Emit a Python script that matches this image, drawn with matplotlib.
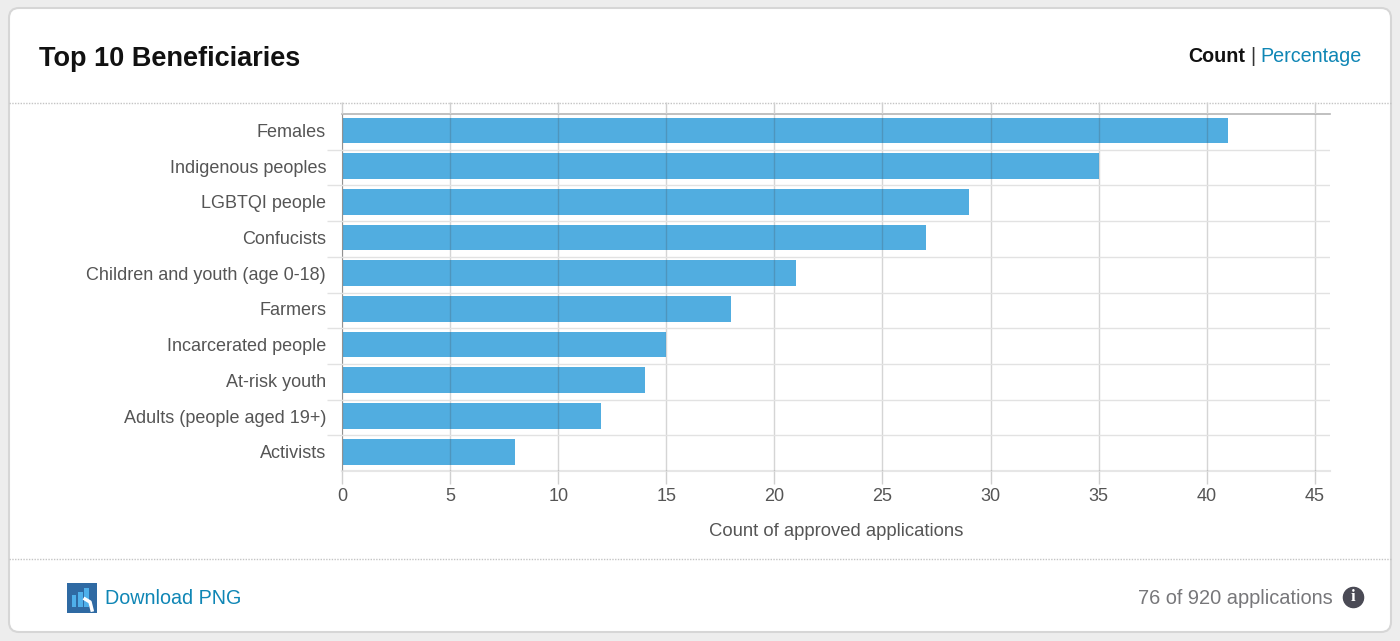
import matplotlib.pyplot as plt
import numpy as np
from matplotlib.patches import FancyBboxPatch, Rectangle

categories = ["Females", "Indigenous peoples", "LGBTQI people", "Confucists",
              "Children and youth (age 0-18)", "Farmers", "Incarcerated people",
              "At-risk youth", "Adults (people aged 19+)", "Activists"]
counts = [41, 35, 29, 27, 21, 18, 15, 14, 12, 8]
x_ticks = [0, 5, 10, 15, 20, 25, 30, 35, 40, 45]

page_color = "#ededed"
bar_color = "#51ade0"
link_color = "#0f86b5"
text_color = "#555555"


if __name__ == "__main__":
    plt.rcParams["font.family"] = ["Liberation Sans", "DejaVu Sans"]
    plt.figure(figsize=(14, 6.41), dpi=100, facecolor=page_color)

    # card and footer, in pixels of the picture
    plt.axes([0, 0, 1, 1])
    plt.xlim(0, 1400)
    plt.ylim(641, 0)
    plt.axis("off")
    plt.gca().add_patch(FancyBboxPatch((9, 8), 1382, 624, boxstyle="round,pad=0,rounding_size=10",
                                       facecolor="white", edgecolor="#d6d6d6", linewidth=1.5))
    plt.plot([9, 1391], [103, 103], color="#c4c4c4", linewidth=1, linestyle=(0, (1, 1)))
    plt.plot([9, 1391], [559, 559], color="#c4c4c4", linewidth=1, linestyle=(0, (1, 1)))

    plt.text(39, 59, "Top 10 Beneficiaries", fontsize=19.5, fontweight="bold", color="#111111", va="center")
    plt.text(1245, 57, "Count", fontsize=14.2, fontweight="bold", color="#111111", va="center", ha="right")
    plt.text(1253, 57, "|", fontsize=14.2, color="#333333", va="center", ha="center")
    plt.text(1260, 57, "Percentage", fontsize=14.2, color=link_color, va="center")

    plt.text(105, 599, "Download PNG", fontsize=14.2, color=link_color, va="center")
    plt.text(1333, 599, "76 of 920 applications", fontsize=14.4, color="#77777a", va="center", ha="right")
    plt.plot([1353], [597], marker="o", markersize=14.5, color="#4a4a55")
    plt.text(1353, 597, "i", fontsize=12, fontweight="bold", color="white", va="center", ha="center",
             family="Liberation Serif")

    # download icon
    plt.gca().add_patch(Rectangle((67, 583), 30, 30, facecolor="#2f6aa3", edgecolor="none"))
    plt.gca().add_patch(Rectangle((72, 595), 4, 12, facecolor="#4fb0ea", edgecolor="none"))
    plt.gca().add_patch(Rectangle((78, 592), 5, 15, facecolor="#4fb0ea", edgecolor="none"))
    plt.gca().add_patch(Rectangle((84, 588), 5, 19, facecolor="#4fb0ea", edgecolor="none"))
    plt.plot([85, 90, 92], [599, 602, 610], color="white", linewidth=2.5)

    # the chart itself
    plt.axes([342 / 1400, (641 - 471) / 641, 988 / 1400, 357 / 641], facecolor="none")
    positions = np.arange(len(categories))
    plt.barh(positions, counts, height=0.72, color=bar_color, linewidth=0, zorder=2)
    plt.xlim(0, 45.7)
    plt.ylim(9.54, -0.46)  # bars sit a little above the middle of their bands

    plt.xticks(x_ticks, fontsize=13, color=text_color)
    plt.yticks(positions, categories, fontsize=13, color=text_color)
    plt.gca().set_yticks(positions[:-1] + 0.54, minor=True)
    plt.tick_params(axis="y", which="major", length=0, pad=11.5)
    plt.tick_params(axis="y", which="minor", length=11, color="#e2e2e2", width=1)
    plt.tick_params(axis="x", which="major", length=9, width=1, color="#d0d0d0", pad=3,
                    top=True)

    plt.grid(axis="x", color="#444444", alpha=0.22, linewidth=1, zorder=3)
    plt.grid(axis="y", which="minor", color="#e2e2e2", linewidth=1, zorder=1)
    plt.gca().set_axisbelow(False)

    for side in ["right"]:
        plt.gca().spines[side].set_visible(False)
    plt.gca().spines["left"].set_color("#a8a8a8")
    plt.gca().spines["top"].set_color("#b5b5b5")
    plt.gca().spines["top"].set_linewidth(1.2)
    plt.gca().spines["bottom"].set_color("#e6e6e6")
    plt.gca().spines["bottom"].set_linewidth(1.5)

    plt.xlabel("Count of approved applications", fontsize=13.3, color=text_color, labelpad=13)

    plt.savefig("out.png", dpi=100, facecolor=page_color)
